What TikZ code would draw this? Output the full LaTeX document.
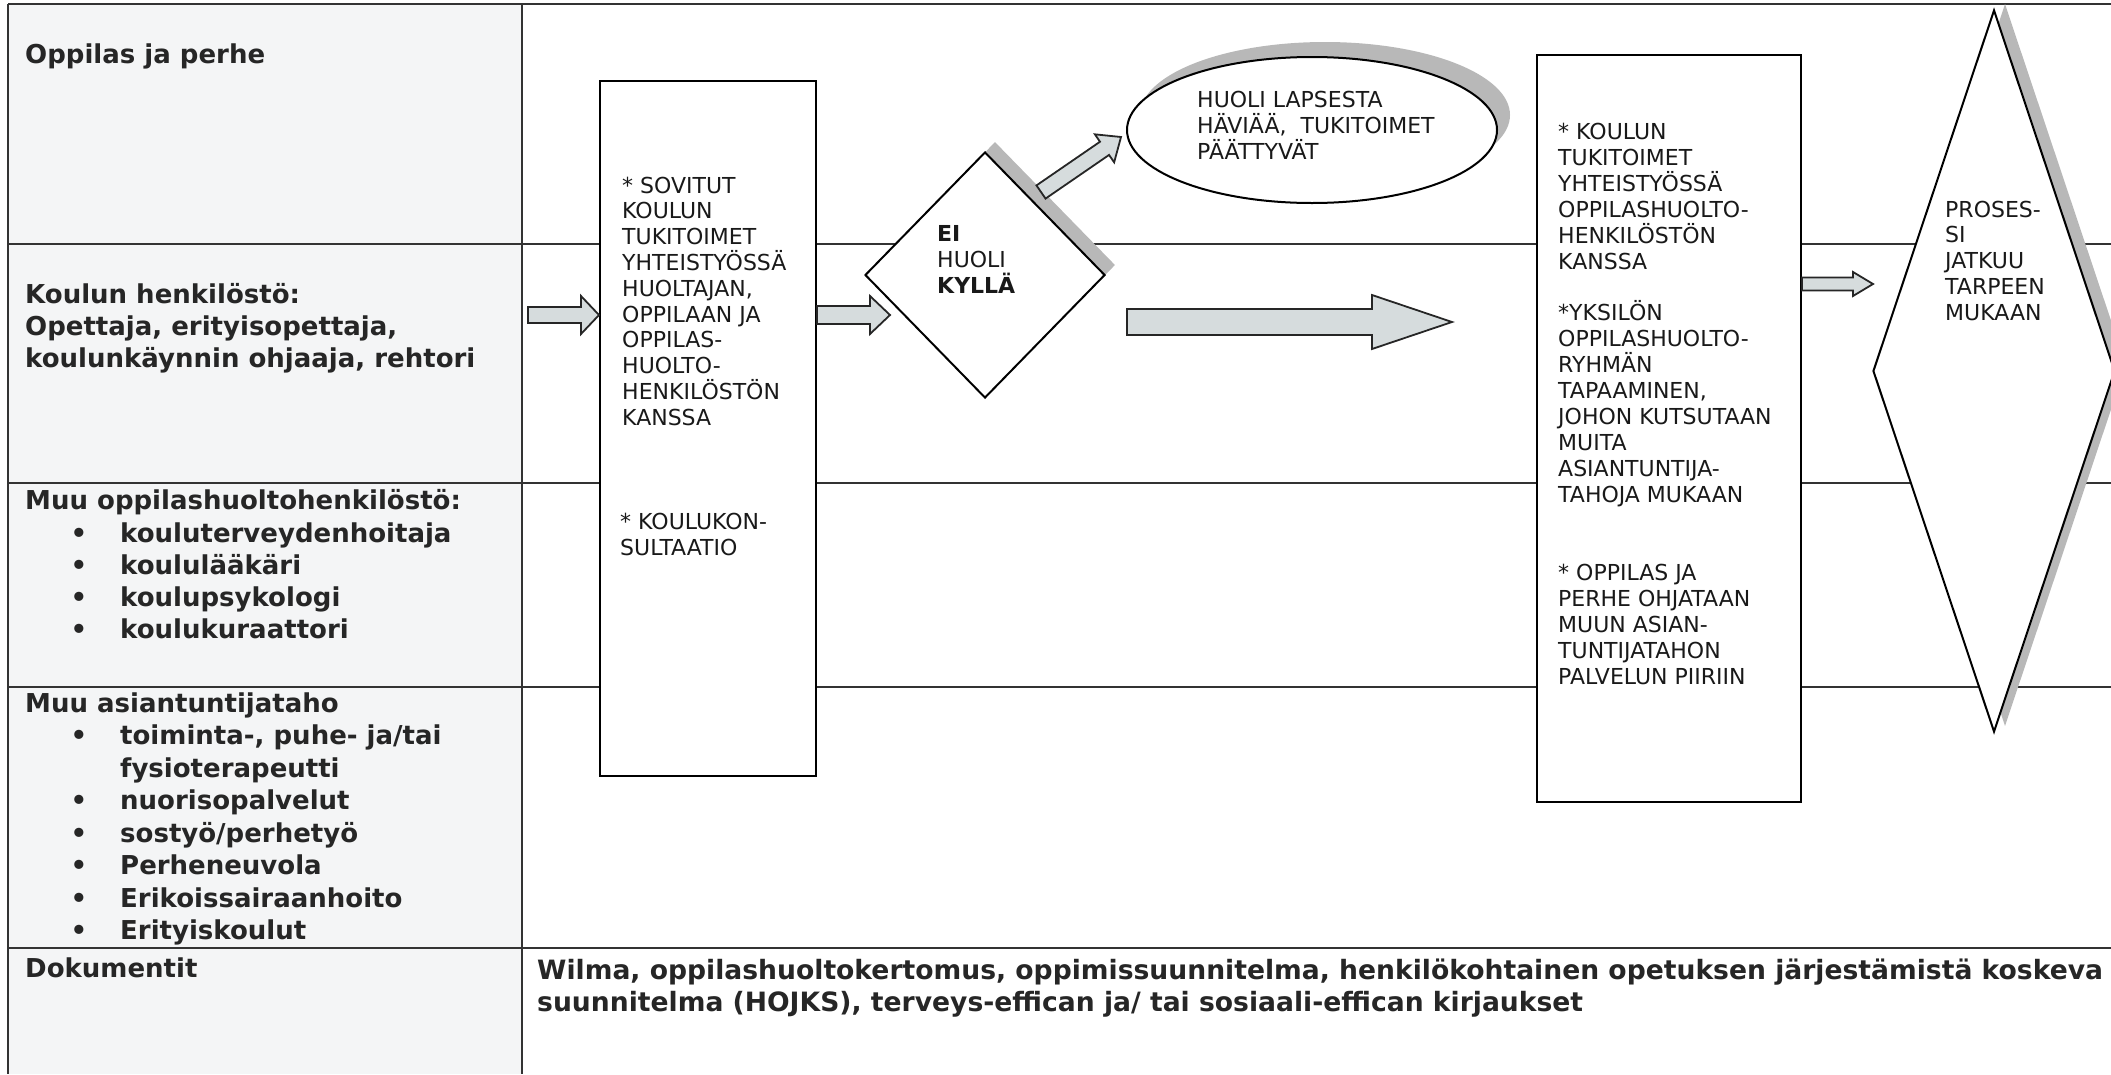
\documentclass[tikz,border=0pt]{standalone}
\usepackage{fontspec}
\setmainfont{DejaVu Sans}
\usetikzlibrary{shapes.geometric,calc}
\definecolor{arrowc}{RGB}{214,220,221}
\definecolor{shadowc}{RGB}{184,184,184}
\definecolor{leftbg}{RGB}{244,245,246}
\newcommand\linesat[6]{\foreach \t [count=\i] in {#6} {\node[#2, anchor=base west] (#1\i) at (#3, {#4+(\i-1)*#5}) {\t};}}
\newcommand\blockarrow[5]{%
  \coordinate (tmph) at ($(#2)!#5!(#1)$);
  \draw[barrow] ($(#1)!#3!90:(#2)$) -- ($(tmph)!#3!90:(#2)$) -- ($(tmph)!#4!90:(#2)$) -- (#2) -- ($(tmph)!#4!-90:(#2)$) -- ($(tmph)!#3!-90:(#2)$) -- ($(#1)!#3!-90:(#2)$) -- cycle;}
\begin{document}
\begin{tikzpicture}[x=1pt, y=-1pt,
  bodytxt/.style={font=\fontsize{22}{26}\selectfont, inner sep=0pt, text=black!90},
  headtxt/.style={font=\fontsize{26}{32}\selectfont\bfseries, inner sep=0pt, text=black!85},
  doctxt/.style={font=\fontsize{26.6}{32}\selectfont\bfseries, inner sep=0pt, text=black!85},
  gridline/.style={draw=black!80, line width=2pt},
  boxs/.style={draw=black, line width=2pt, fill=white, inner sep=0pt},
  barrow/.style={draw=black!85, line width=1.8pt, fill=arrowc, line join=miter},
  shad/.style={fill=shadowc, draw=none, inner sep=0pt}]
\useasboundingbox (0,0) rectangle (2111,1074);
\clip (0,0) rectangle (2111,1074);
% table
\fill[leftbg] (8,4) rectangle (522,1074);
\draw[gridline] (8,4) -- (2111,4);
\draw[gridline] (8,4) -- (8,1074);
\draw[gridline] (522,4) -- (522,1074);
\foreach \yy in {244,483,687,948} {\draw[gridline] (8,\yy) -- (2111,\yy);}
% shadows
\node[shad, ellipse, minimum width=370pt, minimum height=146pt] (elsh) at (1325,115) {};
\node[shad, diamond, minimum width=240pt, minimum height=246pt] (d1sh) at (995,265) {};
\node[shad, diamond, minimum width=242pt, minimum height=722pt] (d2sh) at (2005,365) {};
% shapes
\node[boxs, minimum width=216pt, minimum height=695pt] (box1) at (708,428.5) {};
\node[boxs, diamond, minimum width=240pt, minimum height=246pt] (d1) at (985,275) {};
\node[boxs, ellipse, minimum width=370pt, minimum height=146pt] (el) at (1312,130) {};
\node[boxs, minimum width=264pt, minimum height=747pt] (box2) at (1669,428.5) {};
\node[boxs, diamond, minimum width=242pt, minimum height=722pt] (d2) at (1994,371) {};
% arrows
\coordinate (y315) at (0,315);
\coordinate (y284) at (0,284);
\coordinate (a1s) at (528,315);
\coordinate (a1e) at (box1.west |- y315);
\coordinate (a2s) at (box1.east |- y315);
\coordinate (a2e) at (890,315);
\coordinate (a3s) at (1041,192);
\coordinate (a3e) at (1121,137);
\coordinate (a4s) at (1127,322);
\coordinate (a4e) at (1452,322);
\coordinate (a5s) at (box2.east |- y284);
\coordinate (a5e) at (1873,284);
\blockarrow{a1s}{a1e}{8pt}{19pt}{18pt}
\blockarrow{a2s}{a2e}{9pt}{19pt}{20pt}
\blockarrow{a3s}{a3e}{8pt}{17pt}{20pt}
\blockarrow{a4s}{a4e}{13pt}{27pt}{80pt}
\blockarrow{a5s}{a5e}{6.5pt}{12pt}{20pt}
% texts in shapes
\linesat{bA}{bodytxt}{622}{193}{25.8}{* SOVITUT, KOULUN, TUKITOIMET, YHTEISTYÖSSÄ, {HUOLTAJAN,}, OPPILAAN JA, OPPILAS-, HUOLTO-, HENKILÖSTÖN, KANSSA}
\linesat{bB}{bodytxt}{620}{529}{26}{* KOULUKON-, SULTAATIO}
\linesat{dA}{bodytxt}{937}{241}{26}{\bfseries EI, HUOLI, \bfseries KYLLÄ}
\linesat{eA}{bodytxt}{1197}{107}{26}{HUOLI LAPSESTA, {HÄVIÄÄ, \ TUKITOIMET}, PÄÄTTYVÄT}
\linesat{cA}{bodytxt}{1558}{139}{26}{* KOULUN, TUKITOIMET, YHTEISTYÖSSÄ, OPPILASHUOLTO-, HENKILÖSTÖN, KANSSA}
\linesat{cB}{bodytxt}{1558}{320}{26}{*YKSILÖN, OPPILASHUOLTO-, RYHMÄN, {TAPAAMINEN,}, JOHON KUTSUTAAN, MUITA, ASIANTUNTIJA-, TAHOJA MUKAAN}
\linesat{cC}{bodytxt}{1558}{580}{26}{* OPPILAS JA, PERHE OHJATAAN, MUUN ASIAN-, TUNTIJATAHON, PALVELUN PIIRIIN}
\linesat{pA}{bodytxt}{1945}{217}{25.75}{PROSES-, SI, JATKUU, TARPEEN, MUKAAN}
% left column
\node[headtxt, anchor=base west] (h1) at (25,63) {Oppilas ja perhe};
\linesat{hB}{headtxt}{25}{303}{32}{Koulun henkilöstö:, {Opettaja, erityisopettaja,}, {koulunkäynnin ohjaaja, rehtori}}
\node[headtxt, anchor=base west] (h3) at (25,509.5) {Muu oppilashuoltohenkilöstö:};
\linesat{hC}{headtxt}{120}{542}{32.3}{kouluterveydenhoitaja, koululääkäri, koulupsykologi, koulukuraattori}
\foreach \k in {0,1,2,3} {\node[headtxt, anchor=base] (bc\k) at (79,{542+32.3*\k}) {•};}
\node[headtxt, anchor=base west] (h4) at (25,712) {Muu asiantuntijataho};
\linesat{hD}{headtxt}{120}{744.5}{32.5}{{toiminta-, puhe- ja/tai}, fysioterapeutti, nuorisopalvelut, sostyö/perhetyö, Perheneuvola, Erikoissairaanhoito, Erityiskoulut}
\foreach \k in {0,2,3,4,5,6} {\node[headtxt, anchor=base] (bd\k) at (79,{744.5+32.5*\k}) {•};}
\node[headtxt, anchor=base west] (h5) at (25,977) {Dokumentit};
\linesat{doc}{doctxt}{537}{979}{32}{{Wilma, oppilashuoltokertomus, oppimissuunnitelma, henkilökohtainen opetuksen järjestämistä koskeva}, {suunnitelma (HOJKS), terveys-effican ja/ tai sosiaali-effican kirjaukset}}
\end{tikzpicture}
\end{document}
